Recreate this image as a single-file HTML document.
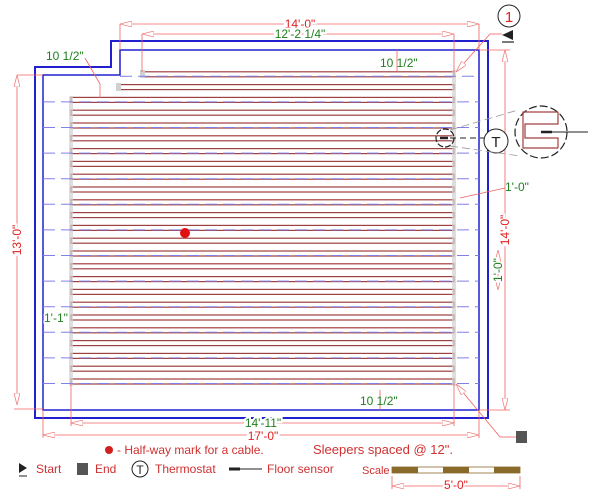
<!DOCTYPE html>
<html><head><style>
html,body{margin:0;padding:0;background:#fff;}
svg{display:block;font-family:"Liberation Sans",sans-serif;}
</style></head><body>
<svg width="600" height="496" viewBox="0 0 600 496" xmlns="http://www.w3.org/2000/svg">
<defs>
<marker id="ar" viewBox="0 0 12 6" refX="12" refY="3" markerWidth="12" markerHeight="6" orient="auto-start-reverse" markerUnits="userSpaceOnUse">
<path d="M0,0 L12,3 L0,6 Z" fill="#fff" stroke="#f08080" stroke-width="0.8"/>
</marker>
</defs>
<path d="M35,418 L35,67 L111,67 L111,41 L488,41 L488,418 Z" fill="none" stroke="#2020d0" stroke-width="2"/>
<path d="M43,410 L43,75 L120,75 L120,50 L479,50 L479,410 Z" fill="none" stroke="#2020d0" stroke-width="1.5"/>
<g fill="none" stroke="#a04040" stroke-width="1.2">
<rect x="143" y="71.8" width="311" height="5"/>
<rect x="118" y="84.6" width="336" height="5"/>
<rect x="71" y="97.4" width="383" height="5"/><rect x="71" y="110.2" width="383" height="5"/>
<rect x="71" y="123" width="383" height="5"/><rect x="71" y="135.8" width="383" height="5"/>
<rect x="71" y="148.6" width="383" height="5"/><rect x="71" y="161.4" width="383" height="5"/>
<rect x="71" y="174.2" width="383" height="5"/><rect x="71" y="187" width="383" height="5"/>
<rect x="71" y="199.8" width="383" height="5"/><rect x="71" y="212.6" width="383" height="5"/>
<rect x="71" y="225.4" width="383" height="5"/><rect x="71" y="238.2" width="383" height="5"/>
<rect x="71" y="251" width="383" height="5"/><rect x="71" y="263.8" width="383" height="5"/>
<rect x="71" y="276.6" width="383" height="5"/><rect x="71" y="289.4" width="383" height="5"/>
<rect x="71" y="302.2" width="383" height="5"/><rect x="71" y="315" width="383" height="5"/>
<rect x="71" y="327.8" width="383" height="5"/><rect x="71" y="340.6" width="383" height="5"/>
<rect x="71" y="353.4" width="383" height="5"/><rect x="71" y="366.2" width="383" height="5"/>
<rect x="71" y="379" width="383" height="5"/>
</g>
<rect x="69" y="96" width="4" height="290" fill="#d0d0d0" opacity="0.7"/>
<rect x="452" y="70" width="4" height="316" fill="#d0d0d0" opacity="0.7"/>
<rect x="116" y="83" width="5" height="8" fill="#d0d0d0"/>
<rect x="140" y="70" width="5" height="8" fill="#d0d0d0"/>
<g stroke="#8080e8" stroke-width="1" stroke-dasharray="12,6">
<line x1="120" y1="76.3" x2="479" y2="76.3"/>
<line x1="43" y1="101.9" x2="479" y2="101.9"/><line x1="43" y1="127.5" x2="479" y2="127.5"/>
<line x1="43" y1="153.1" x2="479" y2="153.1"/><line x1="43" y1="178.7" x2="479" y2="178.7"/>
<line x1="43" y1="204.3" x2="479" y2="204.3"/><line x1="43" y1="229.9" x2="479" y2="229.9"/>
<line x1="43" y1="255.5" x2="479" y2="255.5"/><line x1="43" y1="281.1" x2="479" y2="281.1"/>
<line x1="43" y1="306.7" x2="479" y2="306.7"/><line x1="43" y1="332.3" x2="479" y2="332.3"/>
<line x1="43" y1="357.9" x2="479" y2="357.9"/><line x1="43" y1="383.5" x2="479" y2="383.5"/>
</g>
<g stroke="#f06060" stroke-width="0.8" fill="none">
<line x1="120" y1="24" x2="479" y2="24" marker-start="url(#ar)" marker-end="url(#ar)"/>
<line x1="120" y1="24" x2="120" y2="50"/><line x1="479" y1="24" x2="479" y2="50"/>
<line x1="142" y1="34" x2="454" y2="34" marker-start="url(#ar)" marker-end="url(#ar)"/>
<line x1="142" y1="34" x2="142" y2="72"/><line x1="454" y1="34" x2="454" y2="72"/>
<line x1="17" y1="75" x2="17" y2="405" marker-start="url(#ar)" marker-end="url(#ar)"/>
<line x1="17" y1="75" x2="43" y2="75"/><line x1="14" y1="409" x2="43" y2="409"/>
<line x1="505" y1="50" x2="505" y2="410" marker-start="url(#ar)" marker-end="url(#ar)"/>
<line x1="479" y1="50" x2="510" y2="50"/><line x1="479" y1="410" x2="510" y2="410"/>
<line x1="498" y1="250" x2="498" y2="290" marker-start="url(#ar)" marker-end="url(#ar)"/>
<line x1="71" y1="423" x2="454" y2="423" marker-start="url(#ar)" marker-end="url(#ar)"/>
<line x1="71" y1="384" x2="71" y2="426"/><line x1="454" y1="384" x2="454" y2="426"/>
<line x1="43" y1="435" x2="479" y2="435" marker-start="url(#ar)" marker-end="url(#ar)"/>
<line x1="43" y1="410" x2="43" y2="438"/><line x1="479" y1="410" x2="479" y2="438"/>
<line x1="85" y1="58" x2="100" y2="84"/><line x1="100" y1="84" x2="100" y2="98"/>
<line x1="397" y1="50" x2="397" y2="72"/>
<line x1="380" y1="390" x2="380" y2="410"/>
<line x1="460" y1="198" x2="505" y2="188"/>
<line x1="456" y1="72" x2="490" y2="34" marker-start="url(#ar)"/><line x1="490" y1="34" x2="502" y2="34"/>
<line x1="456" y1="384" x2="500" y2="437" marker-start="url(#ar)"/><line x1="500" y1="437" x2="516" y2="437"/>
<line x1="392" y1="486" x2="520" y2="486" marker-start="url(#ar)" marker-end="url(#ar)"/>
<line x1="392" y1="476" x2="392" y2="489"/><line x1="520" y1="476" x2="520" y2="489"/>
</g>
<g font-size="12">
<text x="300" y="28" fill="#e02020" text-anchor="middle" style="paint-order:stroke" stroke="#fff" stroke-width="4">14'-0"</text>
<text x="300" y="38" fill="#208020" text-anchor="middle" style="paint-order:stroke" stroke="#fff" stroke-width="4">12'-2 1/4"</text>
<text x="46" y="60" fill="#208020">10 1/2"</text>
<text x="380" y="67" fill="#208020">10 1/2"</text>
<text x="360" y="405" fill="#208020">10 1/2"</text>
<text x="263" y="427" fill="#208020" text-anchor="middle" style="paint-order:stroke" stroke="#fff" stroke-width="4">14'-11"</text>
<text x="263" y="440" fill="#e02020" text-anchor="middle" style="paint-order:stroke" stroke="#fff" stroke-width="4">17'-0"</text>
<text x="505" y="191" fill="#208020">1'-0"</text>
<text x="44" y="322" fill="#208020" style="paint-order:stroke" stroke="#fff" stroke-width="3">1'-1"</text>
<text transform="translate(21,240) rotate(-90)" fill="#e02020" text-anchor="middle" style="paint-order:stroke" stroke="#fff" stroke-width="4">13'-0"</text>
<text transform="translate(509,230) rotate(-90)" fill="#e02020" text-anchor="middle" style="paint-order:stroke" stroke="#fff" stroke-width="4">14'-0"</text>
<text transform="translate(502,270) rotate(-90)" fill="#208020" text-anchor="middle" style="paint-order:stroke" stroke="#fff" stroke-width="3">1'-0"</text>
<text x="456" y="489" fill="#e02020" text-anchor="middle" style="paint-order:stroke" stroke="#fff" stroke-width="3">5'-0"</text>
</g>
<circle cx="185" cy="233" r="5" fill="#e01010"/>
<circle cx="445" cy="138" r="9" fill="none" stroke="#222" stroke-width="1.2" stroke-dasharray="6,2"/>
<line x1="440" y1="138" x2="484" y2="138" stroke="#222" stroke-width="1" stroke-dasharray="6,4"/>
<line x1="440" y1="138" x2="448" y2="138" stroke="#222" stroke-width="2.5"/>
<circle cx="496" cy="141" r="12" fill="#fff" stroke="#222" stroke-width="1"/>
<text x="496" y="147" font-size="15" text-anchor="middle" fill="#222">T</text>
<line x1="450" y1="130" x2="518" y2="110" stroke="#999" stroke-width="0.8" stroke-dasharray="8,4"/>
<line x1="450" y1="146" x2="520" y2="156" stroke="#999" stroke-width="0.8" stroke-dasharray="8,4"/>
<circle cx="541" cy="132" r="26" fill="#fff" stroke="#222" stroke-width="1.2" stroke-dasharray="8,3"/>
<path d="M558,112 L523,112 L523,148 L558,148 M558,112 L558,124 L525,124 L525,138 L558,138 L558,148" fill="none" stroke="#a04040" stroke-width="1.2"/>
<line x1="541" y1="132" x2="588" y2="132" stroke="#222" stroke-width="1"/>
<line x1="541" y1="132" x2="552" y2="132" stroke="#222" stroke-width="2.5"/>
<circle cx="509" cy="16" r="11" fill="#fff" stroke="#222" stroke-width="1"/>
<text x="509" y="22" font-size="15" text-anchor="middle" fill="#e02020">1</text>
<path d="M513,30 L502,35 L513,40 Z" fill="#222"/>
<line x1="502" y1="42" x2="514" y2="42" stroke="#222" stroke-width="1.2"/>
<rect x="516" y="431" width="11" height="12" fill="#555"/>
<circle cx="109" cy="450" r="4" fill="#d02020"/>
<text x="117" y="454" font-size="12" fill="#d03030">- Half-way mark for a cable.</text>
<text x="313" y="454" font-size="13" fill="#d03030">Sleepers spaced @ 12".</text>
<path d="M19,463 L27,468 L19,473 Z" fill="#222"/>
<line x1="19" y1="476" x2="27" y2="476" stroke="#222" stroke-width="1"/>
<text x="36" y="473" font-size="12" fill="#d03030">Start</text>
<rect x="77" y="463" width="11" height="12" fill="#555"/>
<text x="95" y="473" font-size="12" fill="#d03030">End</text>
<circle cx="140" cy="469" r="8" fill="#fff" stroke="#222" stroke-width="1"/>
<text x="140" y="474" font-size="12" text-anchor="middle" fill="#222">T</text>
<text x="155" y="473" font-size="12" fill="#d03030">Thermostat</text>
<line x1="229" y1="469" x2="262" y2="469" stroke="#222" stroke-width="1"/>
<line x1="229" y1="469" x2="240" y2="469" stroke="#222" stroke-width="3"/>
<text x="267" y="473" font-size="12" fill="#d03030">Floor sensor</text>
<text x="362" y="474" font-size="11" fill="#d03030">Scale</text>
<rect x="392" y="467" width="128" height="6" fill="#fff" stroke="#8a6a2a" stroke-width="0.8"/>
<rect x="392" y="467" width="26" height="6" fill="#8a6a2a"/>
<rect x="443" y="467" width="26" height="6" fill="#8a6a2a"/>
<rect x="494" y="467" width="26" height="6" fill="#8a6a2a"/>
</svg>
</body></html>
